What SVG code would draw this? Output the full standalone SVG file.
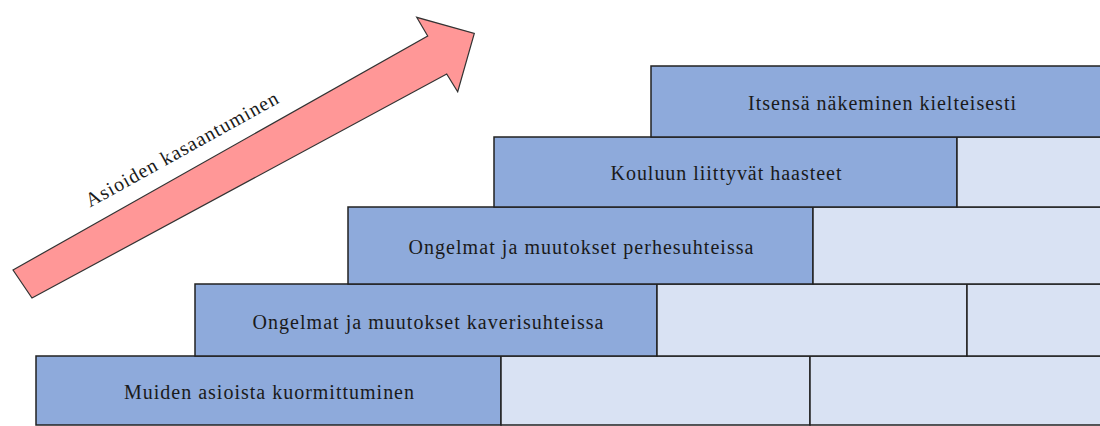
<svg xmlns="http://www.w3.org/2000/svg" width="1100" height="426" viewBox="0 0 1100 426">
<style>
.dark{fill:#8EAADB;stroke:#222;stroke-width:1.5}
.light{fill:#D9E2F3;stroke:#222;stroke-width:1.5}
.lbl{font-family:"Liberation Serif","Times New Roman",serif;font-size:20px;fill:#1a1a1a;text-anchor:middle}
.arrow{fill:#FF9797;stroke:#333;stroke-width:1.2}
</style>
<rect width="1100" height="426" fill="#fff"/>
<g id="arrow">
<polygon class="arrow" points="13,270 427.7,36 416.7,17.3 474.3,33.3 457.7,91.7 446.7,74 32,298"/>
<text class="lbl" x="185" y="155" textLength="217" lengthAdjust="spacing" transform="rotate(-29 185 155)">Asioiden kasaantuminen</text>
</g>
<g id="row5">
<g id="n5"><rect class="dark" x="36" y="356" width="465" height="69"/><text class="lbl" x="269" y="399" textLength="290" lengthAdjust="spacing">Muiden asioista kuormittuminen</text></g>
<g id="n5b"><rect class="light" x="501" y="356" width="309" height="69"/></g>
<g id="n5c"><rect class="light" x="810" y="356" width="305" height="69"/></g>
</g>
<g id="row4">
<g id="n4"><rect class="dark" x="195" y="284" width="462" height="72"/><text class="lbl" x="428" y="329" textLength="351" lengthAdjust="spacing">Ongelmat ja muutokset kaverisuhteissa</text></g>
<g id="n4b"><rect class="light" x="657" y="284" width="310" height="72"/></g>
<g id="n4c"><rect class="light" x="967" y="284" width="148" height="72"/></g>
</g>
<g id="row3">
<g id="n3"><rect class="dark" x="348" y="207" width="465" height="77"/><text class="lbl" x="581" y="254" textLength="345" lengthAdjust="spacing">Ongelmat ja muutokset perhesuhteissa</text></g>
<g id="n3b"><rect class="light" x="813" y="207" width="302" height="77"/></g>
</g>
<g id="row2">
<g id="n2"><rect class="dark" x="494" y="137" width="463" height="70"/><text class="lbl" x="726" y="180" textLength="231" lengthAdjust="spacing">Kouluun liittyvät haasteet</text></g>
<g id="n2b"><rect class="light" x="957" y="137" width="158" height="70"/></g>
</g>
<g id="row1">
<g id="n1"><rect class="dark" x="651" y="66" width="464" height="71"/><text class="lbl" x="882" y="110" textLength="268" lengthAdjust="spacing">Itsensä näkeminen kielteisesti</text></g>
</g>
<g id="connectors"/>
</svg>
